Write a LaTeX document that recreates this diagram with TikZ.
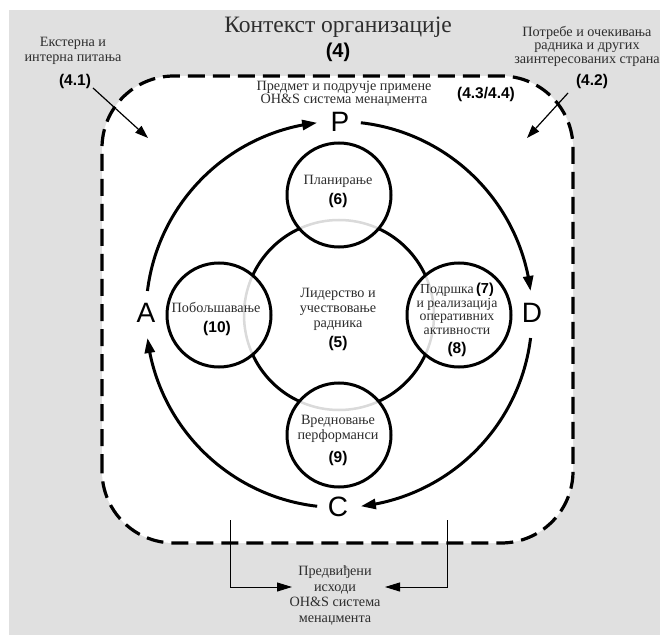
\documentclass[tikz,border=0pt]{standalone}
\usepackage{fontspec}
\setmainfont{Liberation Serif}
\setsansfont{Liberation Sans}
\usetikzlibrary{arrows.meta,bending,calc}
\definecolor{bggray}{RGB}{224,224,224}
\definecolor{ringgray}{RGB}{218,218,218}
\definecolor{txtgray}{RGB}{45,45,45}
\newcommand{\numfont}{\fontsize{15.5}{16}\selectfont\sffamily\bfseries}
\begin{document}
\begin{tikzpicture}[x=1pt,y=1pt,
  lbl/.style={font=\fontsize{14.2}{15}\selectfont, text=txtgray, align=center, inner sep=0pt},
  num/.style={font=\numfont, inner sep=0pt},
  pdca/.style={font=\fontsize{28}{30}\selectfont\sffamily, inner sep=0pt},
  cyc/.style={line width=3pt, -{Triangle[length=15pt,width=10pt]}},
  thinarrow/.style={line width=1.2pt, -{Triangle[length=13pt,width=9pt]}},
  outarrow/.style={line width=1pt, -{Triangle[length=15pt,width=9pt]}},
  smallc/.style={draw, circle, line width=3pt, minimum size=104pt, inner sep=0pt},
]
\useasboundingbox (0,0) rectangle (660,635);
% background
\fill[bggray] (9,0) rectangle (660,625);
% organisation boundary
\draw[fill=white, line width=3.2pt, dash pattern=on 17pt off 8pt, rounded corners=72pt]
  (102,92) rectangle (573,559);

% title and context notes
\node[font=\fontsize{23.5}{26}\selectfont, text=txtgray, inner sep=0pt] (title) at (338,608) {Контекст организације};
\node[num, font=\fontsize{20}{22}\selectfont\sffamily\bfseries] (n4) at (338,582.5) {(4)};

\node[lbl] (ext) at (73,584.5) {Екстерна и\\интерна питања};
\node[num] (n41) at (75,554) {(4.1)};
\node[lbl, font=\fontsize{14.2}{13.5}\selectfont] (needs) at (587,589) {Потребе и очекивања\\радника и других\\заинтересованих страна};
\node[num] (n42) at (592,554) {(4.2)};
\node[lbl, font=\fontsize{14.2}{13}\selectfont] (scope) at (344,541) {Предмет и подручје примене\\OH\&S система менаџмента};
\node[num] (n434) at (486,541) {(4.3/4.4)};

\coordinate (s41) at (93,547);
\coordinate (t41) at (148,497);
\coordinate (s42) at (568,542);
\coordinate (t42) at (527,497);
\draw[thinarrow] (s41) -- (t41);
\draw[thinarrow] (s42) -- (t42);

% PDCA cycle
\coordinate (O) at (339,320.5);
\node[pdca] (P) at (340,513) {P};
\node[pdca] (D) at (532,322) {D};
\node[pdca] (C) at (338,128) {C};
\node[pdca] (A) at (146,322) {A};
\draw[cyc] ($(O)+(173:193pt)$) arc[start angle=173, end angle=96.5, radius=193pt];
\draw[cyc] ($(O)+(83.5:193pt)$) arc[start angle=83.5, end angle=7, radius=193pt];
\draw[cyc] ($(O)+(-7:193pt)$) arc[start angle=-7, end angle=-83.5, radius=193pt];
\draw[cyc] ($(O)+(-96.5:193pt)$) arc[start angle=-96.5, end angle=-173, radius=193pt];

% inner circles
\coordinate (Q) at (339,320);
\draw[ringgray, line width=2.5pt] (Q) circle[radius=95pt];
\node[smallc] (plan) at (339,440) {};
\node[smallc] (eval) at (339,200) {};
\node[smallc] (impr) at (219,320) {};
\node[smallc] (supp) at (459,320) {};
\foreach \a in {0,90,180,270}{
  \draw[line width=3pt] ($(Q)+(\a+24.7:95pt)$) arc[start angle=\a+24.7, end angle=\a+65.3, radius=95pt];
}

% texts in circles
\node[lbl] (plant) at (338,454) {Планирање};
\node[num] (n6) at (338,435) {(6)};
\node[lbl] (lead) at (338,326) {Лидерство и\\учествовање\\радника};
\node[num] (n5) at (338,292) {(5)};
\node[lbl] (imprt) at (216,328) {Побољшавање};
\node[num] (n10) at (217,307) {(10)};
\node[lbl, font=\fontsize{13.8}{13.6}\selectfont] (suppt) at (457,326) {Подршка\,{\color{black}\fontsize{14.5}{13}\selectfont\sffamily\bfseries(7)}\\и реализација\\оперативних\\активности};
\node[num] (n8) at (457,286) {(8)};
\node[lbl] (evalt) at (338,206.5) {Вредновање\\перформанси};
\node[num] (n9) at (338,177) {(9)};

% intended outcomes
\node[lbl, font=\fontsize{14.2}{15.5}\selectfont] (out) at (335,39.5) {Предвиђени\\исходи\\OH\&S система\\менаџмента};
\coordinate (bl) at (230,115);
\coordinate (br) at (447,115);
\coordinate (tl) at (292,48);
\coordinate (tr) at (385,48);
\draw[outarrow] (bl) |- (tl);
\draw[outarrow] (br) |- (tr);
\end{tikzpicture}
\end{document}
